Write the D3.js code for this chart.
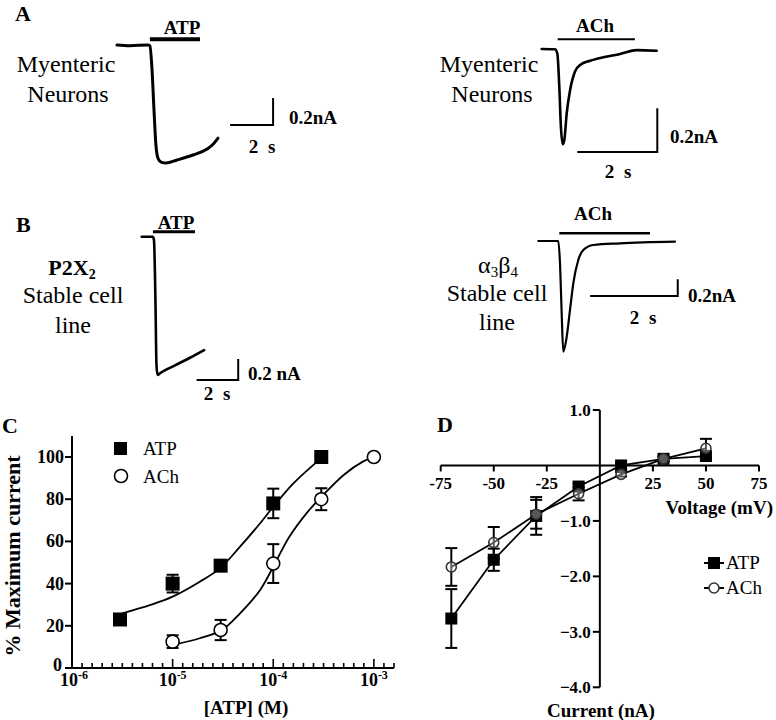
<!DOCTYPE html>
<html>
<head>
<meta charset="utf-8">
<script src="https://cdn.jsdelivr.net/npm/d3@7"></script>
<style>
  html, body { margin: 0; padding: 0; background: #fff; }
  svg { display: block; }
  text { font-family: "Liberation Serif", "Times New Roman", serif; fill: #000; }
</style>
</head>
<body>
<svg id="fig" width="776" height="720"></svg>
<script>
// ---------------- DATA ----------------
// Panel A, left trace (ATP, myenteric neurons): time (s), current (nA)
const aLeftT = [0, 0.6, 1.44, 1.53, 1.63, 1.72, 1.81, 1.91, 2.05, 2.28, 2.79, 3.53, 4.19, 4.47, 4.70];
const aLeftI = [0, -0.005, 0, -0.007, -0.185, -0.48, -0.74, -0.84, -0.867, -0.874, -0.852, -0.815, -0.77, -0.735, -0.69];
// Panel A, right trace (ACh, myenteric neurons)
const aRightT = [0, 0.33, 0.39, 0.44, 0.48, 0.525, 0.565, 0.625, 0.71, 0.83, 0.96, 1.21, 1.54, 1.96, 2.375, 2.875];
const aRightI = [0, -0.001, -0.02, -0.173, -0.356, -0.436, -0.417, -0.295, -0.188, -0.104, -0.073, -0.054, -0.038, -0.023, -0.005, -0.008];
// Panel B, left trace (ATP, P2X2 cell line)
const bLeftT = [0, 0.53, 0.59, 0.66, 0.71, 0.76, 0.88, 1.6, 2.3, 3.0];
const bLeftI = [0, 0, -0.031, -0.60, -1.22, -1.317, -1.30, -1.225, -1.155, -1.08];
// Panel B, right trace (ACh, a3b4 cell line)
const bRightT = [0, 0.456, 0.495, 0.533, 0.57, 0.648, 0.723, 0.798, 0.912, 1.026, 1.254, 1.863, 3.117];
const bRightI = [0, 0, -0.267, -0.866, -1.326, -1.146, -0.826, -0.507, -0.228, -0.108, -0.048, -0.028, -0.008];

// Panel C: concentration-response (% maximum current)
const cAtpX = [3e-6, 1e-5, 3e-5, 1e-4, 3e-4];
const cAtpY = [23, 40, 48.5, 78, 100];
const cAtpErr = [0, 4.2, 0, 7, 0];
const cAchX = [1e-5, 3e-5, 1e-4, 3e-4, 1e-3];
const cAchY = [12.5, 18, 49.5, 80, 100];
const cAchErr = [3, 4.8, 9.2, 5.2, 0];
// fitted curves (log10 concentration, %)
const cAtpFitLogX = [-5.5, -5.22, -5.0, -4.73, -4.53, -4.33, -4.13, -4.0, -3.8, -3.52];
const cAtpFitY = [25.9, 29.9, 33.8, 40.9, 47.2, 57.5, 68.6, 76.4, 87.5, 99.6];
const cAchFitLogX = [-5.0, -4.73, -4.51, -4.33, -4.13, -4.0, -3.84, -3.67, -3.52, -3.30, -3.11, -3.0];
const cAchFitY = [10.9, 14.1, 18, 25.9, 37, 48, 62.2, 73.3, 81.2, 91.5, 97.8, 100];
const cYTicks = [0, 20, 40, 60, 80, 100];
const cXTickExp = [-6, -5, -4, -3];

// Panel D: I-V relation
const dVolt = [-70, -50, -30, -10, 10, 30, 50];
const dAtpI = [-2.76, -1.70, -0.91, -0.38, 0.0, 0.12, 0.17];
const dAtpErr = [0.53, 0.20, 0.34, 0.06, 0.04, 0.04, 0.05];
const dAchI = [-1.83, -1.39, -0.88, -0.51, -0.16, 0.12, 0.31];
const dAchErr = [0.34, 0.28, 0.26, 0.12, 0.04, 0.04, 0.17];
const dXTicks = [-75, -50, -25, 25, 50, 75];
const dYTicks = [1.0, -1.0, -2.0, -3.0, -4.0];

// ---------------- DRAW ----------------
const svg = d3.select("#fig");

function label(x, y, txt, size, bold, anchor) {
  return svg.append("text").attr("x", x).attr("y", y)
    .attr("font-size", size).attr("font-weight", bold ? "bold" : "normal")
    .attr("text-anchor", anchor || "start").text(txt);
}

// Panel letters
label(15, 21, "A", 22, true);
label(16, 232, "B", 22, true);
label(2, 433, "C", 22, true);
label(437, 432, "D", 22, true);

// Generic trace panel
function tracePanel(cfg) {
  const x = d3.scaleLinear().domain([0, 2]).range([cfg.x0, cfg.x0 + cfg.px2s]);
  const y = d3.scaleLinear().domain([0, -0.2]).range([cfg.y0, cfg.y0 + cfg.px02nA]);
  const g = svg.append("g");
  const pts = cfg.t.map((t, i) => [t, cfg.I[i]]);
  g.append("path").datum(pts)
    .attr("d", d3.line().x(d => x(d[0])).y(d => y(d[1])).curve(d3.curveMonotoneX))
    .attr("fill", "none").attr("stroke", "#000").attr("stroke-width", cfg.lw)
    .attr("stroke-linejoin", "round").attr("stroke-linecap", "round");
  // stimulus bar
  g.append("line")
    .attr("x1", x(cfg.bar[0])).attr("x2", x(cfg.bar[1]))
    .attr("y1", y(cfg.barI)).attr("y2", y(cfg.barI))
    .attr("stroke", "#000").attr("stroke-width", cfg.barW);
  // scale bar
  const sb = d3.path();
  sb.moveTo(x(cfg.sbT), y(cfg.sbI));
  sb.lineTo(x(cfg.sbT + 2), y(cfg.sbI));
  sb.lineTo(x(cfg.sbT + 2), y(cfg.sbI + 0.2));
  g.append("path").attr("d", sb.toString()).attr("fill", "none")
    .attr("stroke", "#000").attr("stroke-width", 2);
  return { x, y };
}

// A left
tracePanel({ t: aLeftT, I: aLeftI, x0: 117, px2s: 43, y0: 45, px02nA: 27, lw: 3,
  bar: [1.53, 3.86], barI: 0.042, barW: 4, sbT: 5.26, sbI: -0.593 });
label(182, 34, "ATP", 19, true, "middle");
label(66, 72, "Myenteric", 24, false, "middle");
label(68, 102, "Neurons", 24, false, "middle");
label(289, 124, "0.2nA", 19, true);
label(262, 153, "2 s", 19, true, "middle").attr("word-spacing", 5);

// A right
tracePanel({ t: aRightT, I: aRightI, x0: 541.7, px2s: 80, y0: 49, px02nA: 43.7, lw: 2.6,
  bar: [0.40, 2.33], barI: 0.0445, barW: 2, sbT: 0.89, sbI: -0.471 });
label(595, 32, "ACh", 19, true, "middle");
label(489, 72, "Myenteric", 24, false, "middle");
label(492, 102, "Neurons", 24, false, "middle");
label(670, 143, "0.2nA", 19, true);
label(618, 178, "2 s", 19, true, "middle").attr("word-spacing", 5);

// B left
tracePanel({ t: bLeftT, I: bLeftI, x0: 141.7, px2s: 41.6, y0: 236.7, px02nA: 21, lw: 2.6,
  bar: [0.54, 2.56], barI: 0.048, barW: 3, sbT: 2.64, sbI: -1.365 });
label(176, 229, "ATP", 19, true, "middle");
{
  const t = label(72, 275, "P2X", 22, true, "middle");
  t.append("tspan").attr("font-size", 14).attr("dy", 4).text("2");
}
label(73, 303, "Stable cell", 24, false, "middle");
label(73, 333, "line", 24, false, "middle");
label(248, 380, "0.2 nA", 19, true);
label(217, 400, "2 s", 19, true, "middle").attr("word-spacing", 5);

// B right
tracePanel({ t: bRightT, I: bRightI, x0: 538.3, px2s: 87.7, y0: 241, px02nA: 16.7, lw: 2.2,
  bar: [0.479, 2.547], barI: 0.092, barW: 2.5, sbT: 1.18, sbI: -0.659 });
label(593, 220, "ACh", 19, true, "middle");
{
  const t = label(498, 273, "α", 24, false, "middle");
  t.append("tspan").attr("font-size", 15).attr("dy", 4).text("3");
  t.append("tspan").attr("font-size", 24).attr("dy", -4).text("β");
  t.append("tspan").attr("font-size", 15).attr("dy", 4).text("4");
}
label(497, 301, "Stable cell", 24, false, "middle");
label(497, 330, "line", 24, false, "middle");
label(688, 302, "0.2nA", 19, true);
label(643, 324, "2 s", 19, true, "middle").attr("word-spacing", 5);

// ---------------- Panel C ----------------
{
  const x = d3.scaleLog().domain([1e-6, Math.pow(10, -2.8)]).range([72, 394]);
  const y = d3.scaleLinear().domain([0, 110]).range([668, 435.9]);
  const g = svg.append("g");
  // axes
  g.append("line").attr("x1", 72).attr("x2", 394).attr("y1", y(0)).attr("y2", y(0))
    .attr("stroke", "#000").attr("stroke-width", 2);
  g.append("line").attr("x1", 72).attr("x2", 72).attr("y1", y(0) + 1).attr("y2", y(110))
    .attr("stroke", "#000").attr("stroke-width", 2);
  // minor/major x ticks (inside, pointing up)
  d3.range(-60, -27).forEach(k => {
    const e = k / 10;
    const major = (k % 10 === 0);
    g.append("line").attr("x1", x(Math.pow(10, e))).attr("x2", x(Math.pow(10, e)))
      .attr("y1", y(0)).attr("y2", y(0) - (major ? 9 : 5))
      .attr("stroke", "#000").attr("stroke-width", 1.6);
  });
  cXTickExp.forEach(e => {
    const t = g.append("text").attr("x", x(Math.pow(10, e)) + (e === -6 ? 2 : 0)).attr("y", 686)
      .attr("text-anchor", "middle").attr("font-size", 18).attr("font-weight", "bold").text("10");
    t.append("tspan").attr("font-size", 12).attr("dy", -7).text(String(e));
  });
  // y ticks
  cYTicks.forEach(v => {
    g.append("line").attr("x1", 65).attr("x2", 72).attr("y1", y(v)).attr("y2", y(v))
      .attr("stroke", "#000").attr("stroke-width", 2);
    g.append("text").attr("x", v === 0 ? 62 : 64).attr("y", y(v) + (v === 0 ? 3 : 6)).attr("text-anchor", "end")
      .attr("font-size", 18).attr("font-weight", "bold").text(v);
  });
  // axis titles
  g.append("text").attr("transform", "translate(20,556) rotate(-90)")
    .attr("text-anchor", "middle").attr("font-size", 22).attr("font-weight", "bold")
    .text("% Maximum current");
  g.append("text").attr("x", 246).attr("y", 714).attr("text-anchor", "middle")
    .attr("font-size", 19).attr("font-weight", "bold").text("[ATP] (M)");
  // fitted curves
  const line = d3.line().x(d => x(Math.pow(10, d[0]))).y(d => y(d[1])).curve(d3.curveCatmullRom);
  g.append("path").datum(cAtpFitLogX.map((v, i) => [v, cAtpFitY[i]])).attr("d", line)
    .attr("fill", "none").attr("stroke", "#000").attr("stroke-width", 1.8);
  g.append("path").datum(cAchFitLogX.map((v, i) => [v, cAchFitY[i]])).attr("d", line)
    .attr("fill", "none").attr("stroke", "#000").attr("stroke-width", 1.8);
  // error bars
  function err(xs, ys, es) {
    xs.forEach((xv, i) => {
      if (!es[i]) return;
      const cx = x(xv), y1 = y(ys[i] + es[i]), y2 = y(ys[i] - es[i]);
      g.append("line").attr("x1", cx).attr("x2", cx).attr("y1", y1).attr("y2", y2)
        .attr("stroke", "#000").attr("stroke-width", 2);
      [y1, y2].forEach(yy => g.append("line").attr("x1", cx - 6).attr("x2", cx + 6)
        .attr("y1", yy).attr("y2", yy).attr("stroke", "#000").attr("stroke-width", 2));
    });
  }
  err(cAtpX, cAtpY, cAtpErr);
  err(cAchX, cAchY, cAchErr);
  // markers
  cAtpX.forEach((xv, i) => g.append("rect").attr("x", x(xv) - 7).attr("y", y(cAtpY[i]) - 7)
    .attr("width", 14).attr("height", 14).attr("fill", "#000"));
  cAchX.forEach((xv, i) => g.append("circle").attr("cx", x(xv)).attr("cy", y(cAchY[i]))
    .attr("r", 6.5).attr("fill", "#fff").attr("stroke", "#000").attr("stroke-width", 1.6));
  // legend
  g.append("rect").attr("x", 114).attr("y", 442).attr("width", 13).attr("height", 13).attr("fill", "#000");
  g.append("text").attr("x", 143).attr("y", 455).attr("font-size", 19).text("ATP");
  g.append("circle").attr("cx", 121).attr("cy", 476).attr("r", 6.5)
    .attr("fill", "#fff").attr("stroke", "#000").attr("stroke-width", 1.6);
  g.append("text").attr("x", 143).attr("y", 483).attr("font-size", 19).text("ACh");
}

// ---------------- Panel D ----------------
{
  const x = d3.scaleLinear().domain([-75, 75]).range([440.7, 759]);
  const y = d3.scaleLinear().domain([1, -4]).range([410, 687.3]);
  const g = svg.append("g");
  g.append("line").attr("x1", x(-75)).attr("x2", x(75)).attr("y1", y(0)).attr("y2", y(0))
    .attr("stroke", "#000").attr("stroke-width", 2);
  g.append("line").attr("x1", x(0)).attr("x2", x(0)).attr("y1", y(1)).attr("y2", y(-4))
    .attr("stroke", "#000").attr("stroke-width", 2);
  dXTicks.forEach(v => {
    g.append("line").attr("x1", x(v)).attr("x2", x(v)).attr("y1", y(0)).attr("y2", y(0) + 6)
      .attr("stroke", "#000").attr("stroke-width", 2);
    g.append("text").attr("x", x(v)).attr("y", 489).attr("text-anchor", "middle")
      .attr("font-size", 17).attr("font-weight", "bold").text(v);
  });
  dYTicks.forEach(v => {
    g.append("line").attr("x1", x(0) - 7).attr("x2", x(0)).attr("y1", y(v)).attr("y2", y(v))
      .attr("stroke", "#000").attr("stroke-width", 2);
    g.append("text").attr("x", x(0) - 9).attr("y", y(v) + 6).attr("text-anchor", "end")
      .attr("font-size", 17).attr("font-weight", "bold").text(d3.format(".1f")(v));
  });
  g.append("text").attr("x", 773).attr("y", 514).attr("text-anchor", "end")
    .attr("font-size", 19).attr("font-weight", "bold").text("Voltage (mV)");
  g.append("text").attr("x", 601).attr("y", 717).attr("text-anchor", "middle")
    .attr("font-size", 19).attr("font-weight", "bold").text("Current (nA)");

  const line = d3.line().x(d => x(d[0])).y(d => y(d[1]));
  const atpPts = dVolt.map((v, i) => [v, dAtpI[i]]);
  const achPts = dVolt.map((v, i) => [v, dAchI[i]]);
  g.append("path").datum(achPts).attr("d", line).attr("fill", "none")
    .attr("stroke", "#000").attr("stroke-width", 1.8);
  g.append("path").datum(atpPts).attr("d", line).attr("fill", "none")
    .attr("stroke", "#000").attr("stroke-width", 1.8);
  function err(vals, es) {
    dVolt.forEach((v, i) => {
      const cx = x(v), y1 = y(vals[i] + es[i]), y2 = y(vals[i] - es[i]);
      g.append("line").attr("x1", cx).attr("x2", cx).attr("y1", y1).attr("y2", y2)
        .attr("stroke", "#000").attr("stroke-width", 2);
      [y1, y2].forEach(yy => g.append("line").attr("x1", cx - 6).attr("x2", cx + 6)
        .attr("y1", yy).attr("y2", yy).attr("stroke", "#000").attr("stroke-width", 2));
    });
  }
  err(dAtpI, dAtpErr);
  err(dAchI, dAchErr);
  atpPts.forEach(d => g.append("rect").attr("x", x(d[0]) - 6).attr("y", y(d[1]) - 6)
    .attr("width", 12).attr("height", 12).attr("fill", "#000"));
  achPts.forEach(d => g.append("circle").attr("cx", x(d[0])).attr("cy", y(d[1])).attr("r", 5)
    .attr("fill", "#fff").attr("fill-opacity", 0.35).attr("stroke", "#333").attr("stroke-width", 1.6));
  // legend
  g.append("line").attr("x1", 704).attr("x2", 724).attr("y1", 563).attr("y2", 563)
    .attr("stroke", "#000").attr("stroke-width", 2);
  g.append("rect").attr("x", 708).attr("y", 557).attr("width", 12).attr("height", 12).attr("fill", "#000");
  g.append("text").attr("x", 726).attr("y", 569).attr("font-size", 19).text("ATP");
  g.append("line").attr("x1", 704).attr("x2", 724).attr("y1", 588).attr("y2", 588)
    .attr("stroke", "#000").attr("stroke-width", 2);
  g.append("circle").attr("cx", 714).attr("cy", 588).attr("r", 5)
    .attr("fill", "#fff").attr("stroke", "#333").attr("stroke-width", 1.6);
  g.append("text").attr("x", 726).attr("y", 594).attr("font-size", 19).text("ACh");
}
</script>
</body>
</html>
